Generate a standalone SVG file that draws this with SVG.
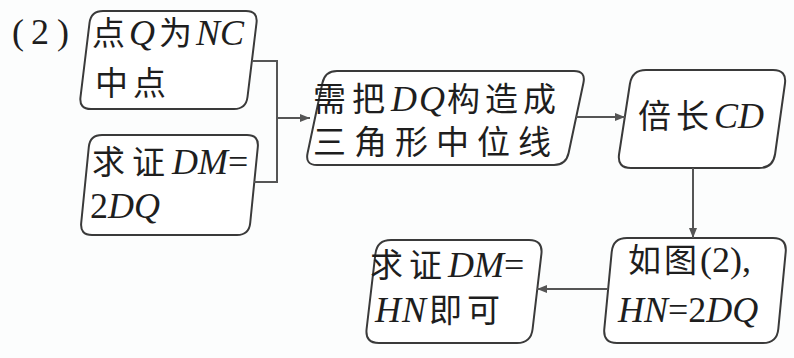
<svg xmlns="http://www.w3.org/2000/svg" width="794" height="358" viewBox="0 0 794 358">
<style>
.bg{fill:#fcfdfd}
.box{fill:#ffffff;stroke:#3a3a3a;stroke-width:2}
.ln{fill:none;stroke:#555;stroke-width:2}
.t{font-family:"Liberation Serif","Noto Sans CJK SC",serif;font-size:33px;fill:#1e1e1e}
.l{font-size:36px}
.i{font-style:italic;font-size:36px}
</style>
<defs>
<marker id="ah" viewBox="0 0 10 8" refX="10" refY="4" markerWidth="10" markerHeight="8" markerUnits="userSpaceOnUse" orient="auto">
<path d="M0,0 L10,4 L0,8 Z" fill="#555"/>
</marker>
</defs>
<rect class="bg" x="0" y="0" width="794" height="358"/>
<text class="t l" x="12" y="44"><tspan>(</tspan><tspan dx="7">2</tspan><tspan dx="8">)</tspan></text>
<g id="n1">
<path class="box" d="M103,11 H246 Q258,11 256.5,23 L247.5,97 Q246,109 234,109 H91 Q79,109 80.5,97 L89.5,23 Q91,11 103,11 Z"/>
<text class="t" x="92" y="45"><tspan letter-spacing="4">点</tspan><tspan class="i" letter-spacing="4">Q</tspan><tspan letter-spacing="4">为</tspan><tspan class="i">NC</tspan></text>
<text class="t" x="95" y="95" letter-spacing="5">中点</text>
</g>
<g id="n2">
<path class="box" d="M102,135 H247 Q259,135 257.8,147 L250.2,223 Q249,235 237,235 H92 Q80,235 81.2,223 L88.8,147 Q90,135 102,135 Z"/>
<text class="t" x="92" y="174"><tspan letter-spacing="7">求证</tspan><tspan class="i">DM</tspan><tspan class="l">=</tspan></text>
<text class="t" x="90" y="218"><tspan class="l">2</tspan><tspan class="i">DQ</tspan></text>
</g>
<g id="n3">
<path class="box" d="M337,71 H574 Q586,71 583.4,83 L568.6,153 Q566,165 554,165 H317 Q305,165 307.6,153 L322.4,83 Q325,71 337,71 Z"/>
<text class="t" x="313" y="111"><tspan letter-spacing="6">需把</tspan><tspan class="i" letter-spacing="2">DQ</tspan><tspan letter-spacing="5">构造成</tspan></text>
<text class="t" x="313" y="154" textLength="238" lengthAdjust="spacing">三角形中位线</text>
</g>
<g id="n4">
<path class="box" d="M646,70 H773 Q787,70 784.9,84 L775.1,154 Q773,168 759,168 H631 Q617,168 619.1,154 L629.9,84 Q632,70 646,70 Z"/>
<text class="t" x="638" y="128"><tspan letter-spacing="5">倍长</tspan><tspan class="i">CD</tspan></text>
</g>
<g id="n5">
<path class="box" d="M627,238 H773 Q787,238 785.7,252 L778.3,329 Q777,343 763,343 H617 Q603,343 604.3,329 L611.7,252 Q613,238 627,238 Z"/>
<text class="t" x="628" y="272"><tspan letter-spacing="3">如图</tspan><tspan class="l">(2),</tspan></text>
<text class="t" x="618" y="322"><tspan class="i">HN</tspan><tspan class="l">=2</tspan><tspan class="i">DQ</tspan></text>
</g>
<g id="n6">
<path class="box" d="M391,240 H529 Q543,240 541.4,254 L532.6,329 Q531,343 517,343 H379 Q365,343 366.6,329 L375.4,254 Q377,240 391,240 Z"/>
<text class="t" x="370" y="277"><tspan letter-spacing="6">求证</tspan><tspan class="i">DM</tspan><tspan class="l">=</tspan></text>
<text class="t" x="375" y="322"><tspan class="i" letter-spacing="1">HN</tspan><tspan dx="2" letter-spacing="5">即可</tspan></text>
</g>
<g id="connectors">
<polyline class="ln" points="252,61 277,61 277,182 254,182"/>
<line class="ln" x1="277" y1="118" x2="310" y2="118" marker-end="url(#ah)"/>
<line class="ln" x1="576" y1="117" x2="625" y2="117" marker-end="url(#ah)"/>
<line class="ln" x1="693" y1="168" x2="693" y2="238" marker-end="url(#ah)"/>
<line class="ln" x1="608" y1="289" x2="537" y2="289" marker-end="url(#ah)"/>
</g>
</svg>
